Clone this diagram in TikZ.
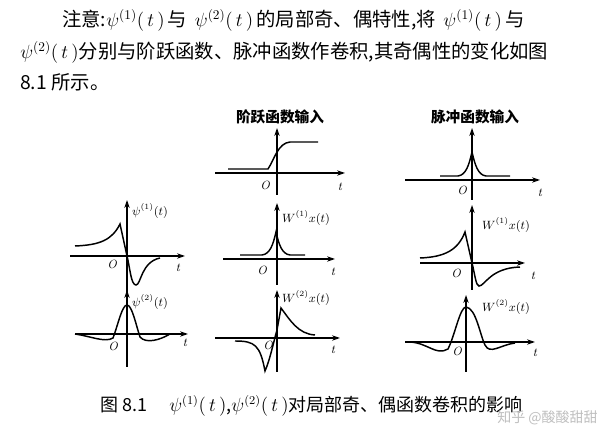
\documentclass[tikz,border=0pt]{standalone}
\usepackage{fontspec}
\newfontfamily\cjk{Noto Sans CJK SC}
\usetikzlibrary{arrows.meta}
\begin{document}
\begin{tikzpicture}[x=0.75pt,y=-0.75pt,
  ax/.style={line width=0.9pt,-{Stealth[length=6pt,width=4pt]}},
  cv/.style={line width=1.1pt},
  lab/.style={font=\small\itshape,inner sep=1pt},
  txt/.style={font=\cjk\fontsize{14.5}{16}\selectfont,anchor=west,inner sep=0pt},
  ttl/.style={font=\cjk\bfseries\fontsize{11}{13}\selectfont,inner sep=0pt}]
\useasboundingbox (0,0) rectangle (600,434);
\fill[white] (0,0) rectangle (600,434);
% text
\node[txt] (l1) at (62,20) {注意:$\psi^{(1)}(\,t\,)$\,与\, $\psi^{(2)}(\,t\,)$\,的局部奇、偶特性,将\, $\psi^{(1)}(\,t\,)$\,与};
\node[txt] (l2) at (20,52) {$\psi^{(2)}(\,t\,)$分别与阶跃函数、脉冲函数作卷积,其奇偶性的变化如图};
\node[txt] (l3) at (20,82) {8.1 所示。};
\node[ttl] (t1) at (280,117) {阶跃函数输入};
\node[ttl] (t2) at (475,117) {脉冲函数输入};
% top col2
\draw[ax] (215,173) -- (345,173);
\draw[ax] (277,195) -- (277,128);
\draw[cv] (228,169) -- (268,169) .. controls (274,160) and (278,143) .. (290,142) -- (318,142);
\node[lab] at (265,185) {O}; \node[lab] at (340,187) {t};
% top col3
\draw[ax] (405,180) -- (540,180);
\draw[ax] (472,200) -- (472,128);
\draw[cv] (440,176) -- (458,176) .. controls (466,175) and (469,165) .. (472,152) .. controls (475,165) and (478,175) .. (486,176) -- (510,176);
\node[lab] at (462,190) {O}; \node[lab] at (540,193) {t};
% row2 col1
\draw[ax] (70,256) -- (185,256);
\draw[ax] (127,300) -- (127,200);
\draw[cv] (75,246) .. controls (100,245) and (112,240) .. (120,224) -- (127,256) .. controls (130,268) and (131,285) .. (136,285) .. controls (141,285) and (141,262) .. (160,258);
\node[lab] at (150,211) {$\psi^{(1)}(t)$};
\node[lab] at (112,264) {O}; \node[lab] at (178,268) {t};
% row2 col2
\draw[ax] (223,259) -- (335,259);
\draw[ax] (277,285) -- (277,203);
\draw[cv] (240,255) -- (262,255) .. controls (270,254) and (273,245) .. (276,232) .. controls (279,245) and (282,254) .. (290,255) -- (305,255);
\node[lab] at (306,218) {$W^{(1)}x(t)$};
\node[lab] at (262,270) {O}; \node[lab] at (333,272) {t};
% row2 col3
\draw[ax] (420,263) -- (525,263);
\draw[ax] (472,290) -- (472,205);
\draw[cv] (420,258) .. controls (445,257) and (458,250) .. (465,232) -- (472,263) .. controls (475,275) and (476,286) .. (479,286) .. controls (485,286) and (490,268) .. (520,267);
\node[lab] at (506,225) {$W^{(1)}x(t)$};
\node[lab] at (456,273) {O}; \node[lab] at (533,276) {t};
% row3 col1
\draw[ax] (75,334) -- (188,334);
\draw[ax] (127,367) -- (127,290);
\draw[cv] (75,334) .. controls (90,336) and (105,343) .. (113,338) .. controls (118,325) and (122,305) .. (127,305) .. controls (132,305) and (136,325) .. (140,337) .. controls (146,344) and (160,340) .. (170,334);
\node[lab] at (150,302) {$\psi^{(2)}(t)$};
\node[lab] at (113,346) {O}; \node[lab] at (185,343) {t};
% row3 col2
\draw[ax] (215,338) -- (340,338);
\draw[ax] (277,372) -- (277,290);
\draw[cv] (235,341) .. controls (255,341) and (260,345) .. (265,371) .. controls (270,360) and (274,340) .. (277,330) -- (281,308) .. controls (290,320) and (298,334) .. (315,335);
\node[lab] at (306,298) {$W^{(2)}x(t)$};
\node[lab] at (268,345) {O}; \node[lab] at (333,350) {t};
% row3 col3
\draw[ax] (405,342) -- (535,342);
\draw[ax] (466,372) -- (466,295);
\draw[cv] (410,342) .. controls (428,343) and (436,356) .. (448,349) .. controls (455,335) and (460,307) .. (466,307) .. controls (476,308) and (480,335) .. (485,345) .. controls (490,355) and (500,345) .. (515,343);
\node[lab] at (506,307) {$W^{(2)}x(t)$};
\node[lab] at (457,351) {O}; \node[lab] at (535,353) {t};
% caption
\node[txt,font=\cjk\fontsize{13.5}{15}\selectfont] (cap) at (100,406) {图 8.1\quad\ $\psi^{(1)}(\,t\,)$,$\psi^{(2)}(\,t\,)$对局部奇、偶函数卷积的影响};
\node[font=\cjk\fontsize{10.5}{12}\selectfont,text=black!25,anchor=east,inner sep=0pt] (wm) at (598,418) {知乎 @酸酸甜甜};
\end{tikzpicture}
\end{document}
